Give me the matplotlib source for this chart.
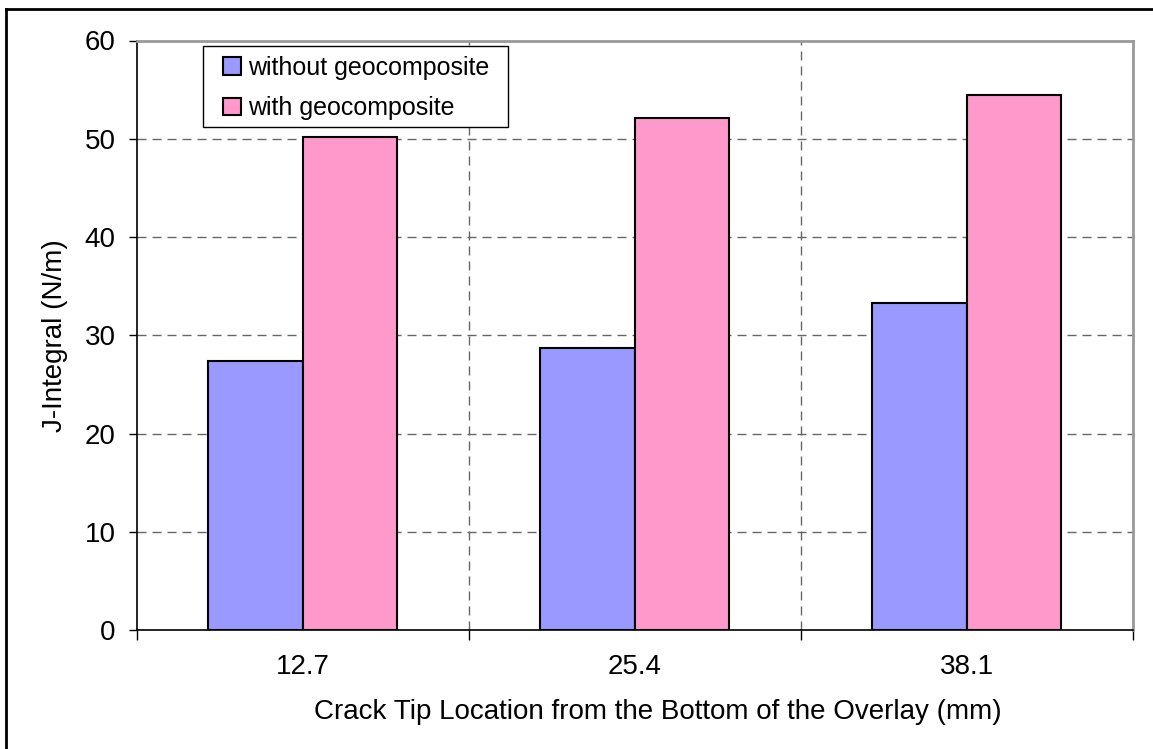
import matplotlib
matplotlib.use("Agg")
import matplotlib.pyplot as plt
from matplotlib.lines import Line2D
from matplotlib.patches import Rectangle
import numpy as np

categories = ["12.7", "25.4", "38.1"]
without_geo = [27.4, 28.7, 33.3]
with_geo = [50.2, 52.1, 54.5]
series_labels = ["without geocomposite", "with geocomposite"]
y_ticks = [0, 10, 20, 30, 40, 50, 60]

plt.rcParams['font.family'] = ['Liberation Sans', 'DejaVu Sans']
plt.rcParams['font.size'] = 20

W, H = 1153, 749
fig = plt.figure(figsize=(W / 100, H / 100), dpi=100)
ax = fig.add_axes([136.5 / W, 1 - 630 / H, 996 / W, 589.5 / H])

x = np.arange(len(categories))
w = 0.2857
ax.bar(x - w / 2, without_geo, width=w, color="#9999FF", edgecolor="black",
       linewidth=1.5, label=series_labels[0], zorder=3)
ax.bar(x + w / 2, with_geo, width=w, color="#FF99CC", edgecolor="black",
       linewidth=1.5, label=series_labels[1], zorder=3)

ax.set_xlim(-0.5, len(categories) - 0.5)
ax.set_ylim(0, 60)
ax.set_yticks(y_ticks)
ax.set_xticks(x)
ax.set_xticklabels(categories)
ax.set_xticks(np.arange(len(categories) + 1) - 0.5, minor=True)
ax.tick_params(axis='x', which='major', length=0, pad=17)
ax.tick_params(axis='x', which='minor', length=7, width=1, direction='out')
ax.tick_params(axis='y', which='major', length=6, width=1, direction='out', pad=9)

dash = (0, (6.5, 4.3))
for yv in y_ticks[1:-1]:
    ax.axhline(yv, color="#666666", linewidth=1, linestyle=dash, zorder=1)
for xv in np.arange(1, len(categories)) - 0.5:
    ax.axvline(xv, color="#666666", linewidth=1, linestyle=dash, zorder=1)

for s in ['left', 'bottom']:
    ax.spines[s].set_color('black')
    ax.spines[s].set_linewidth(1.2)
for s in ['top', 'right']:
    ax.spines[s].set_color('#999999')
    ax.spines[s].set_linewidth(2)

ax.set_ylabel("J-Integral (N/m)", labelpad=12)
ax.set_xlabel("Crack Tip Location from the Bottom of the Overlay (mm)", labelpad=14)
ax.xaxis.label.set_x((658 - 136.5) / 996)

# legend: rows anchored by handle top-left, frame drawn with asymmetric padding
anchor_x = (223 - 136.5) / 996
anchor_y = (630 - 55.5) / 589.5
leg = ax.legend(loc='upper left', bbox_to_anchor=(anchor_x, anchor_y), borderaxespad=0,
                handlelength=0.7, handleheight=0.7, handletextpad=0.3,
                borderpad=0, labelspacing=0.66, frameon=False, fontsize=18)

fig.canvas.draw()
bb = leg.get_window_extent()
pad_l, pad_r = 20, 19
box_h = 81
pad_v = (box_h - bb.height) / 2
frame = Rectangle((bb.x0 - pad_l, bb.y0 - pad_v + 1), bb.width + pad_l + pad_r, box_h,
                  transform=None, facecolor='white', edgecolor='black', linewidth=1.0, zorder=4)
fig.add_artist(frame)
leg.set_zorder(5)
leg.remove()
fig.add_artist(leg)

# figure frame (top and left visible)
fig.add_artist(Line2D([6 / W, 6 / W], [0, 1 - 9 / H], transform=fig.transFigure,
                      color='black', linewidth=2))
fig.add_artist(Line2D([6 / W, 1], [1 - 9 / H, 1 - 9 / H], transform=fig.transFigure,
                      color='black', linewidth=2))

fig.savefig("out.png", dpi=100)
